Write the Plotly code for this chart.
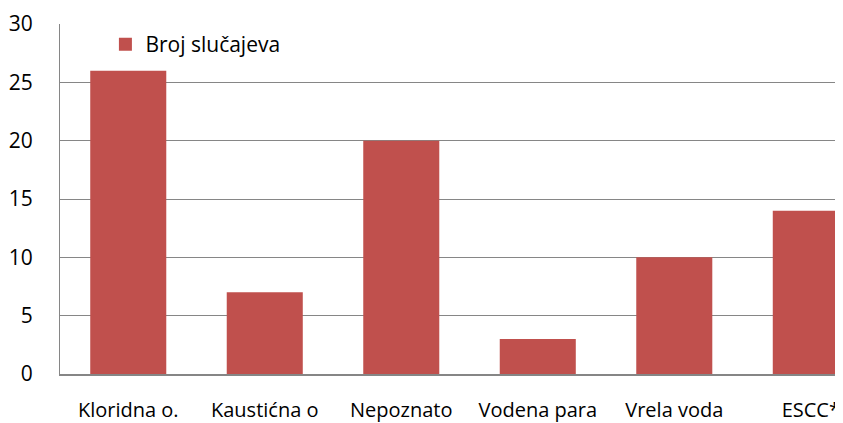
import plotly.graph_objects as go

categories = ["Kloridna o.", "Kaustićna o", "Nepoznato", "Vodena para", "Vrela voda", "ESCC*"]
values = [26, 7, 20, 3, 10, 14]
series_name = "Broj slučajeva"
y_ticks = [0, 5, 10, 15, 20, 25, 30]

FONT = "Open Sans, sans-serif"
BAR_COLOR = "#C0504D"

fig = go.Figure()
fig.add_trace(go.Bar(
    x=list(range(len(categories))), y=values, name=series_name,
    marker=dict(color=BAR_COLOR, line=dict(width=0)),
    width=0.557, showlegend=False,
))
# legend entry only (larger square swatch)
fig.add_trace(go.Scatter(
    x=[None], y=[None], mode="markers", name=series_name,
    marker=dict(symbol="square", size=13, color=BAR_COLOR),
    showlegend=True, hoverinfo="skip",
))

fig.update_layout(
    width=835, height=415,
    margin=dict(l=52, r=0, t=16, b=49, pad=0, autoexpand=False),
    paper_bgcolor="white", plot_bgcolor="white",
    font=dict(family=FONT, size=20, color="black"),
    legend=dict(x=0.058, y=1.0, xanchor="left", yanchor="top",
                bgcolor="rgba(0,0,0,0)", font=dict(size=21),
                itemwidth=30),
)
fig.update_xaxes(
    range=[-0.5, 5.236], tickmode="array",
    tickvals=list(range(len(categories))), ticktext=categories,
    showgrid=False, showline=True, linecolor="#868686", linewidth=2,
    ticks="", ticklabelstandoff=17, tickfont=dict(size=20),
    zeroline=False, automargin=False,
)
fig.update_yaxes(
    range=[0, 30], tickmode="array", tickvals=y_ticks,
    showgrid=True, gridcolor="#868686", gridwidth=1,
    showline=True, linecolor="#868686", linewidth=1,
    ticks="", ticklabelstandoff=22, tickfont=dict(size=21),
    zeroline=False, automargin=False,
)
fig.write_html("out.html")
